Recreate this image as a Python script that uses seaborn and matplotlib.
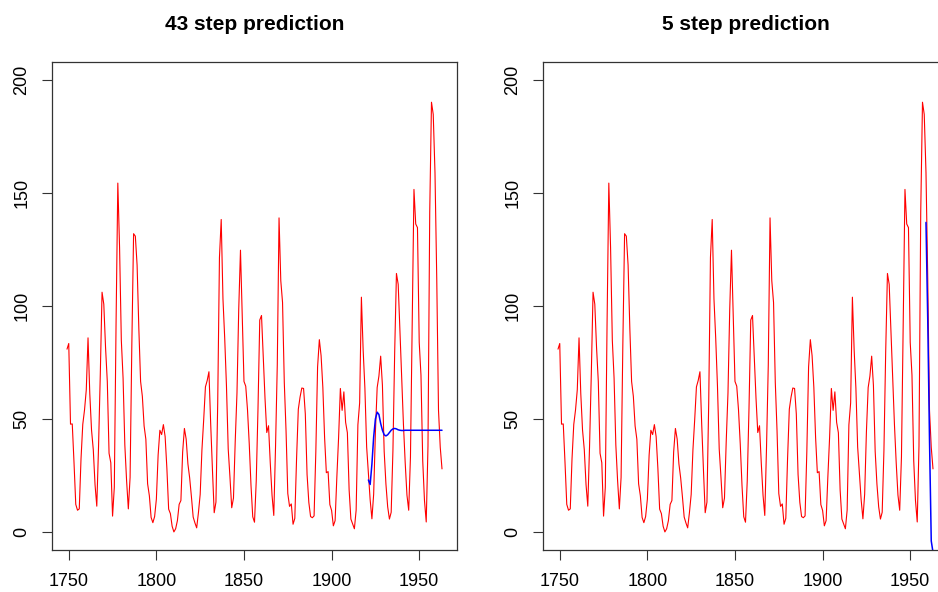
import numpy as np
import pandas as pd
import matplotlib
matplotlib.use("Agg")
import matplotlib.pyplot as plt
import seaborn as sns

# Yearly sunspot numbers 1749-1963
start_year = 1749
sunspots = [
    80.9, 83.4, 47.7, 47.8, 30.7, 12.2, 9.6, 10.2, 32.4, 47.6,
    54.0, 62.9, 85.9, 61.2, 45.1, 36.4, 20.9, 11.4, 37.8, 69.8,
    106.1, 100.8, 81.6, 66.5, 34.8, 30.6, 7.0, 19.8, 92.5, 154.4,
    125.9, 84.8, 68.1, 38.5, 22.8, 10.2, 24.1, 82.9, 132.0, 130.9,
    118.1, 89.9, 66.6, 60.0, 46.9, 41.0, 21.3, 16.0, 6.4, 4.1,
    6.8, 14.5, 34.0, 45.0, 43.1, 47.5, 42.2, 28.1, 10.1, 8.1,
    2.5, 0.0, 1.4, 5.0, 12.2, 13.9, 35.4, 45.8, 41.1, 30.1,
    23.9, 15.6, 6.6, 4.0, 1.8, 8.5, 16.6, 36.3, 49.6, 64.2,
    67.0, 70.9, 47.8, 27.5, 8.5, 13.2, 56.9, 121.5, 138.3, 103.2,
    85.7, 64.6, 36.7, 24.2, 10.7, 15.0, 40.1, 61.5, 98.5, 124.7,
    96.3, 66.6, 64.5, 54.1, 39.0, 20.6, 6.7, 4.3, 22.7, 54.8,
    93.8, 95.8, 77.2, 59.1, 44.0, 47.0, 30.5, 16.3, 7.3, 37.6,
    74.0, 139.0, 111.2, 101.6, 66.2, 44.7, 17.0, 11.3, 12.4, 3.4,
    6.0, 32.3, 54.3, 59.7, 63.7, 63.5, 52.2, 25.4, 13.1, 6.8,
    6.3, 7.1, 35.6, 73.0, 85.1, 78.0, 64.0, 41.8, 26.2, 26.7,
    12.1, 9.5, 2.7, 5.0, 24.4, 42.0, 63.5, 53.8, 62.0, 48.5,
    43.9, 18.6, 5.7, 3.6, 1.4, 9.6, 47.4, 57.1, 103.9, 80.6,
    63.6, 37.6, 26.1, 14.2, 5.8, 16.7, 44.3, 63.9, 69.0, 77.8,
    64.9, 35.7, 21.2, 11.1, 5.7, 8.7, 36.1, 79.7, 114.4, 109.6,
    88.8, 67.8, 47.5, 30.6, 16.3, 9.6, 33.2, 92.6, 151.6, 136.3,
    134.7, 83.9, 69.4, 31.5, 13.9, 4.4, 38.0, 141.7, 190.2, 184.8,
    159.0, 112.3, 53.9, 37.5, 27.9,
]
years = np.arange(start_year, start_year + len(sunspots))

# 43 step prediction (1921-1963)
pred43_start = 1921
pred43 = [
    23.0, 21.0, 30.0, 42.0, 50.0, 53.0, 52.0, 48.0, 45.0, 43.0,
    42.5, 43.0, 44.0, 45.0, 45.6, 45.8, 45.6, 45.2, 45.0, 44.9,
    44.9, 45.0, 45.0, 45.0, 45.0, 45.0, 45.0, 45.0, 45.0, 45.0,
    45.0, 45.0, 45.0, 45.0, 45.0, 45.0, 45.0, 45.0, 45.0, 45.0,
    45.0, 45.0, 45.0,
]
# 5 step prediction (1959-1963)
pred5_start = 1959
pred5 = [137.0, 94.0, 41.0, -4.0, -9.0]

titles = ["43 step prediction", "5 step prediction"]
xticks = [1750, 1800, 1850, 1900, 1950]
yticks = [0, 50, 100, 150, 200]

sns.set_style("white")
plt.rcParams["font.family"] = ["Liberation Sans", "DejaVu Sans"]

W, H = 938, 592
fig = plt.figure(figsize=(W / 100, H / 100), dpi=100)

df = pd.DataFrame({"year": years, "value": sunspots})
preds = [
    pd.DataFrame({"year": np.arange(pred43_start, pred43_start + len(pred43)), "value": pred43}),
    pd.DataFrame({"year": np.arange(pred5_start, pred5_start + len(pred5)), "value": pred5}),
]

ax_left_px = [52, 543]
ax_w_px = 405
ax_top_px, ax_bot_px = 62, 550

for i in range(2):
    ax = fig.add_axes([ax_left_px[i] / W, (H - ax_bot_px) / H,
                       ax_w_px / W, (ax_bot_px - ax_top_px) / H])
    sns.lineplot(data=df, x="year", y="value", color="red", linewidth=0.8,
                 estimator=None, ax=ax)
    sns.lineplot(data=preds[i], x="year", y="value", color="blue", linewidth=1.1,
                 estimator=None, ax=ax)
    span = years[-1] - years[0]
    ax.set_xlim(years[0] - 0.04 * span, years[-1] + 0.04 * span)
    ax.set_ylim(-8, 208)
    ax.set_xticks(xticks)
    ax.set_yticks(yticks)
    ax.set_xticklabels([str(t) for t in xticks])
    ax.set_yticklabels([str(t) for t in yticks], rotation=90, va="center")
    ax.set_xlabel("")
    ax.set_ylabel("")
    ax.tick_params(axis="both", which="both", direction="out", length=7.5,
                   width=0.8, color="#333333", labelsize=13, labelcolor="black",
                   bottom=True, left=True)
    ax.tick_params(axis="x", pad=9)
    ax.tick_params(axis="y", pad=8)
    for s in ax.spines.values():
        s.set_visible(True)
        s.set_color("#333333")
        s.set_linewidth(0.9)
    ax.set_title(titles[i], fontsize=15, fontweight="bold", color="black", pad=23)

fig.savefig("out.png", dpi=100)
